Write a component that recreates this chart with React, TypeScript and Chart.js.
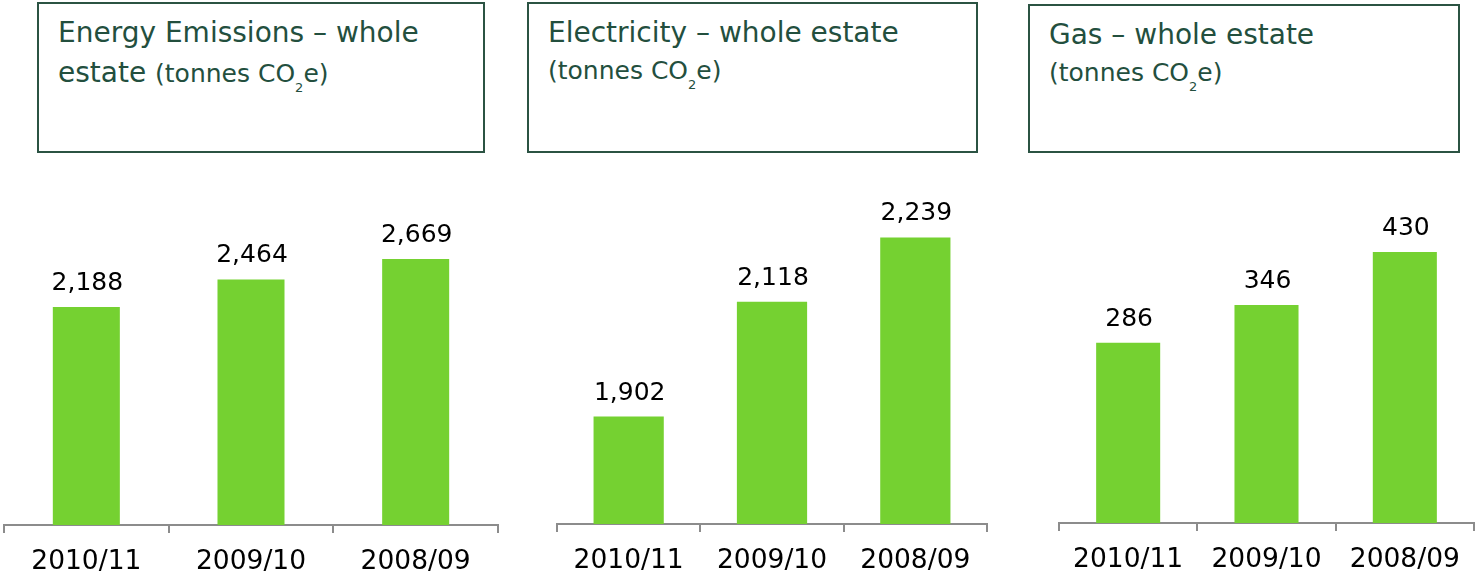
import React, { useEffect, useRef } from "react";
import { Chart, registerables } from "chart.js";

Chart.register(...registerables);

// ---- Data ----
const categories = ["2010/11", "2009/10", "2008/09"];
const energyValues = [2188, 2464, 2669];
const electricityValues = [1902, 2118, 2239];
const gasValues = [286, 346, 430];

const titleLine1 = ["Energy Emissions – whole", "Electricity – whole estate", "Gas – whole estate"];
const titleLine2Big = ["estate ", "", ""];
const unitText = ["(tonnes CO", "e)"];

// ---- Styles / layout ----
const BAR_COLOR = "#75d131";
const AXIS_COLOR = "#8c8c8c";
const TITLE_COLOR = "#234f3e";
const BORDER_COLOR = "#2b5343";
const FONT = '"DejaVu Sans", Verdana, sans-serif';

type PanelCfg = {
  values: number[];
  min: number;
  max: number;
  left: number;
  width: number;
  padL: number;
  padR: number;
  padTop: number;
  axisH: number;
  barPct: number;
};

const panels: PanelCfg[] = [
  { values: energyValues, min: 0, max: 3000, left: 0, width: 500, padL: 4, padR: 2, padTop: 66, axisH: 49, barPct: 0.407 },
  { values: electricityValues, min: 1700, max: 2300, left: 540, width: 460, padL: 17, padR: 13, padTop: 45, axisH: 50, barPct: 0.49 },
  { values: gasValues, min: 0, max: 500, left: 1040, width: 435, padL: 19, padR: 1, padTop: 48, axisH: 51, barPct: 0.463 },
];

const boxes = [
  { left: 37, top: 2, width: 448, height: 151 },
  { left: 527, top: 2, width: 451, height: 151 },
  { left: 1028, top: 4, width: 432, height: 149 },
];

const CANVAS_TOP = 160;
const CANVAS_H = 414;

const valueLabels = {
  id: "valueLabels",
  afterDatasetsDraw(chart: any) {
    const ctx = chart.ctx;
    const meta = chart.getDatasetMeta(0);
    const data = chart.data.datasets[0].data as number[];
    ctx.save();
    ctx.font = `25px ${FONT}`;
    ctx.fillStyle = "#000";
    ctx.textAlign = "center";
    ctx.textBaseline = "alphabetic";
    meta.data.forEach((el: any, i: number) => {
      ctx.fillText(data[i].toLocaleString("en-US"), el.x + 1, el.y - 17);
    });
    ctx.restore();
  },
};

function BarPanel({ cfg }: { cfg: PanelCfg }) {
  const ref = useRef<HTMLCanvasElement | null>(null);
  useEffect(() => {
    if (!ref.current) return;
    const chart = new Chart(ref.current, {
      type: "bar",
      data: {
        labels: categories,
        datasets: [
          {
            data: cfg.values,
            backgroundColor: BAR_COLOR,
            borderWidth: 0,
            barPercentage: cfg.barPct,
            categoryPercentage: 1,
          },
        ],
      },
      options: {
        animation: false,
        responsive: false,
        devicePixelRatio: 1,
        layout: { padding: { left: cfg.padL, right: cfg.padR, top: cfg.padTop, bottom: 0 } },
        plugins: { legend: { display: false }, tooltip: { enabled: false }, title: { display: false } },
        scales: {
          x: {
            offset: true,
            grid: {
              offset: true,
              drawOnChartArea: false,
              drawTicks: true,
              tickLength: 8,
              color: AXIS_COLOR,
              lineWidth: 2,
            },
            border: { display: true, color: AXIS_COLOR, width: 2 },
            ticks: { color: "#000", font: { family: FONT, size: 26.5 }, padding: 13, maxRotation: 0 },
            afterFit: (scale: any) => {
              scale.height = cfg.axisH;
            },
          },
          y: { display: false, min: cfg.min, max: cfg.max },
        },
      },
      plugins: [valueLabels],
    });
    return () => chart.destroy();
  }, [cfg]);
  return (
    <canvas
      ref={ref}
      width={cfg.width}
      height={CANVAS_H}
      style={{ position: "absolute", left: cfg.left, top: CANVAS_TOP, width: cfg.width, height: CANVAS_H }}
    />
  );
}

function Unit() {
  return (
    <>
      {unitText[0]}
      <span style={{ fontSize: 13, position: "relative", top: 10 }}>2</span>
      {unitText[1]}
    </>
  );
}

function TitleBox({ i }: { i: number }) {
  const b = boxes[i];
  const big = titleLine2Big[i];
  return (
    <div
      style={{
        position: "absolute",
        left: b.left,
        top: b.top,
        width: b.width,
        height: b.height,
        boxSizing: "border-box",
        border: `2px solid ${BORDER_COLOR}`,
        paddingTop: 9,
        paddingLeft: 19,
        color: TITLE_COLOR,
        fontFamily: FONT,
        whiteSpace: "nowrap",
      }}
    >
      <div style={{ fontSize: 28, lineHeight: "40px", height: 40 }}>{titleLine1[i]}</div>
      {big ? (
        <div style={{ fontSize: 28, lineHeight: "40px", height: 40 }}>
          {big}
          <span style={{ fontSize: 25 }}>
            <Unit />
          </span>
        </div>
      ) : (
        <div style={{ fontSize: 25, lineHeight: "36px", height: 36 }}>
          <Unit />
        </div>
      )}
    </div>
  );
}

export default function App() {
  useEffect(() => {
    document.body.style.margin = "0";
    document.body.style.overflow = "hidden";
  }, []);
  return (
    <div style={{ position: "absolute", left: 0, top: 0, width: 1475, height: 574, background: "#fff", overflow: "hidden" }}>
      {[0, 1, 2].map((i) => (
        <TitleBox key={"t" + i} i={i} />
      ))}
      {panels.map((p, i) => (
        <BarPanel key={"p" + i} cfg={p} />
      ))}
    </div>
  );
}
